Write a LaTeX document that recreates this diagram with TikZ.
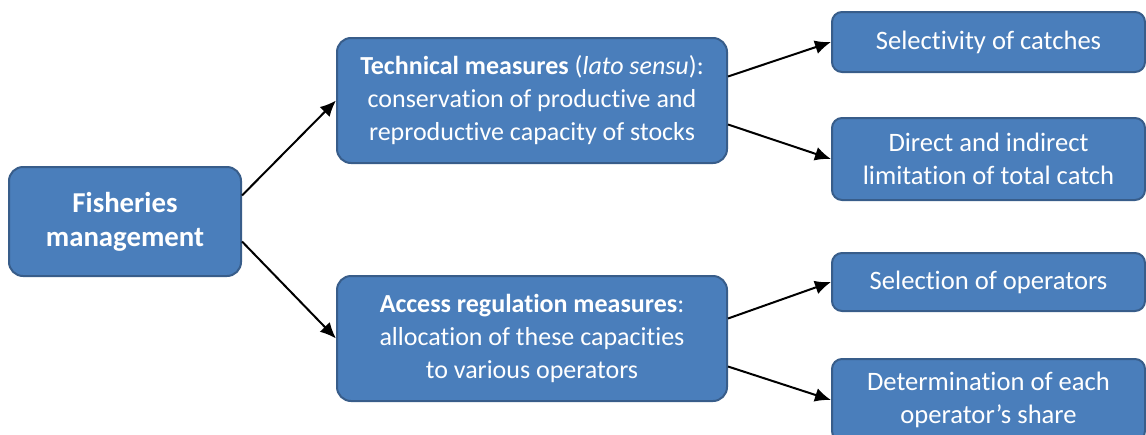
\documentclass[tikz,border=0pt]{standalone}
\usepackage{fontspec}
\setmainfont{Carlito}[Ligatures=NoCommon]
\usetikzlibrary{arrows.meta}
\definecolor{boxfill}{RGB}{74,126,187}
\definecolor{boxline}{RGB}{56,93,138}
\tikzset{
    box/.style={draw=boxline, fill=boxfill, line width=1pt, rounded corners=7pt, text=white, align=center, font=\fontsize{13}{16.5}\selectfont},
    sidebox/.style={box, rounded corners=5pt, minimum width=156.5pt, font=\fontsize{13.3}{16.5}\selectfont},
    arr/.style={-{Latex[length=8pt,width=7pt]}, line width=1pt}
}

\begin{document}
\begin{tikzpicture}[x=0.5pt,y=-0.5pt]
\useasboundingbox (0,0) rectangle (1146,434);
\clip (0,0) rectangle (1146,434);

% main box
\node[box, minimum width=116pt, minimum height=54.5pt, font=\fontsize{14.4}{17}\selectfont\bfseries] (fm) at (125,221.5) {Fisheries\\management};

% middle boxes
\node[box, minimum width=195pt, minimum height=62.5pt] (tm) at (532,100.5) {\textbf{Technical measures} (\textit{lato sensu}):\\conservation of productive and\\reproductive capacity of stocks};
\node[box, minimum width=195pt, minimum height=62.5pt] (am) at (532,338.5) {\textbf{Access regulation measures}:\\allocation of these capacities\\to various operators};

% right boxes
\node[sidebox, minimum height=30pt] (sc) at (988.5,42) {Selectivity of catches};
\node[sidebox, minimum height=41pt] (dl) at (988.5,159) {Direct and indirect\\limitation of total catch};
\node[sidebox, minimum height=29pt] (so) at (988.5,282) {Selection of operators};
\node[sidebox, minimum height=41pt] (ds) at (988.5,400) {Determination of each\\operator’s share};

% arrows
\draw[arr] ([yshift=13pt]fm.east) -- (tm.west);
\draw[arr] ([yshift=-10pt]fm.east) -- (am.west);
\draw[arr] ([yshift=12pt]tm.east) -- (sc.west);
\draw[arr] ([yshift=-12pt]tm.east) -- (dl.west);
\draw[arr] ([yshift=10pt]am.east) -- (so.west);
\draw[arr] ([yshift=-14pt]am.east) -- (ds.west);
\end{tikzpicture}
\end{document}
